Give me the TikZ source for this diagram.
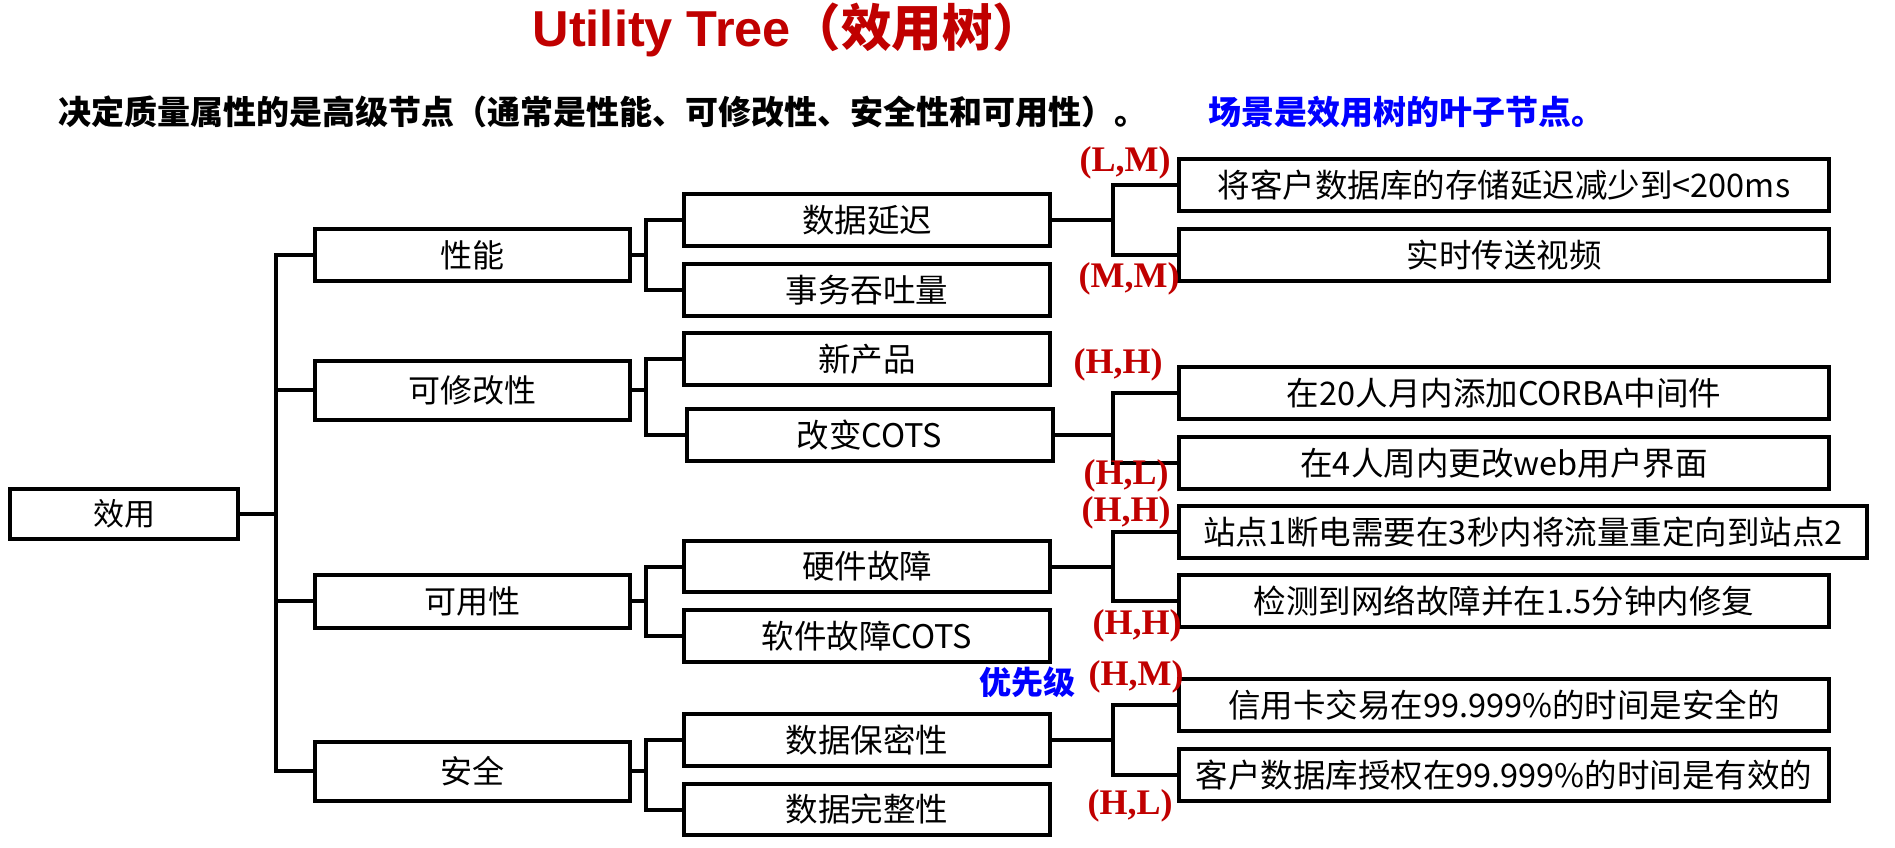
\documentclass[tikz,border=0pt]{standalone}
\usepackage{fontspec}
\setmainfont{Liberation Serif}
\newfontfamily\cjk{Noto Sans CJK SC}
\newfontfamily\lsans{Liberation Sans}
\definecolor{tred}{HTML}{C00000}
\definecolor{tblue}{HTML}{0000FF}
\tikzset{
  box/.style={draw=black, line width=4pt, fill=white, inner sep=0pt, minimum height=#1-4pt,
     font=\cjk\fontsize{32.5}{36}\selectfont},
  lv1/.style={box=#1, minimum width=315pt, font=\cjk\fontsize{32}{36}\selectfont},
  lv2/.style={box=#1, minimum width=366pt},
  leaf/.style={box=#1, minimum width=650pt},
  conn/.style={draw=black, line width=4pt, line cap=rect},
  prio/.style={text=tred, font=\bfseries\fontsize{36}{38}\selectfont, inner sep=0pt},
}
\begin{document}
\begin{tikzpicture}[x=1pt, y=-1pt]
\useasboundingbox (0,0) rectangle (1895,848);
% titles
\node[text=tred, inner sep=0pt] (title) at (788,30) {\fontsize{50.5}{56}\selectfont{\lsans\bfseries Utility Tree}{\cjk\bfseries （效用树）}};
\node[anchor=west, inner sep=0pt, font=\cjk\bfseries\fontsize{33}{38}\selectfont] (sub) at (58,112) {决定质量属性的是高级节点（通常是性能、可修改性、安全性和可用性）。};
\node[anchor=west, inner sep=0pt, text=tblue, font=\cjk\bfseries\fontsize{33}{38}\selectfont] (leafnote) at (1208,112) {场景是效用树的叶子节点。};
% root
\node[box=54pt, minimum width=228pt, font=\cjk\fontsize{31}{36}\selectfont] (root) at (124,514) {效用};
% level 1
\node[lv1=56pt] (perf) at (472.5,255) {性能};
\node[lv1=63pt] (mod) at (472.5,390) {可修改性};
\node[lv1=57pt] (avail) at (472.5,601) {可用性};
\node[lv1=63pt] (sec) at (472.5,771) {安全};
% level 2
\node[lv2=56pt] (lat) at (867,220) {数据延迟};
\node[lv2=56pt] (thr) at (867,290) {事务吞吐量};
\node[lv2=56pt] (newp) at (867,359) {新产品};
\node[lv2=56pt] (cots) at (869.5,435) {改变COTS};
\node[lv2=55pt] (hw) at (867,566.5) {硬件故障};
\node[lv2=56pt] (sw) at (867,636) {软件故障COTS};
\node[lv2=56pt] (conf) at (867,740) {数据保密性};
\node[lv2=55pt] (integ) at (867,809.5) {数据完整性};
% leaves
\node[leaf=56pt] (l1) at (1504,185) {将客户数据库的存储延迟减少到<200ms};
\node[leaf=56pt] (l2) at (1504,255) {实时传送视频};
\node[leaf=56pt] (l3) at (1504,393) {在20人月内添加CORBA中间件};
\node[leaf=56pt] (l4) at (1504,463) {在4人周内更改web用户界面};
\node[leaf=56pt, minimum width=688pt] (l5) at (1523,532) {站点1断电需要在3秒内将流量重定向到站点2};
\node[leaf=56pt] (l6) at (1504,601) {检测到网络故障并在1.5分钟内修复};
\node[leaf=56pt] (l7) at (1504,705) {信用卡交易在99.999\%的时间是安全的};
\node[leaf=56pt] (l8) at (1504,775) {客户数据库授权在99.999\%的时间是有效的};
% fork coordinates
\coordinate (f0) at (276,0);
\coordinate (f1) at (646,0);
\coordinate (f2) at (1113,0);
% connectors level 0 -> 1
\draw[conn] (root.east) -- (root.east -| f0);
\draw[conn] (perf.west) -- (perf.west -| f0) -- (sec.west -| f0) -- (sec.west);
\draw[conn] (mod.west) -- (mod.west -| f0);
\draw[conn] (avail.west) -- (avail.west -| f0);
% level 1 -> 2
\draw[conn] (perf.east) -- (perf.east -| f1);
\draw[conn] (lat.west) -- (lat.west -| f1) -- (thr.west -| f1) -- (thr.west);
\draw[conn] (mod.east) -- (mod.east -| f1);
\draw[conn] (newp.west) -- (newp.west -| f1) -- (cots.west -| f1) -- (cots.west);
\draw[conn] (avail.east) -- (avail.east -| f1);
\draw[conn] (hw.west) -- (hw.west -| f1) -- (sw.west -| f1) -- (sw.west);
\draw[conn] (sec.east) -- (sec.east -| f1);
\draw[conn] (conf.west) -- (conf.west -| f1) -- (integ.west -| f1) -- (integ.west);
% level 2 -> leaves
\draw[conn] (lat.east) -- (lat.east -| f2);
\draw[conn] (l1.west) -- (l1.west -| f2) -- (l2.west -| f2) -- (l2.west);
\draw[conn] (cots.east) -- (cots.east -| f2);
\draw[conn] (l3.west) -- (l3.west -| f2) -- (l4.west -| f2) -- (l4.west);
\draw[conn] (hw.east) -- (hw.east -| f2);
\draw[conn] (l5.west) -- (l5.west -| f2) -- (l6.west -| f2) -- (l6.west);
\draw[conn] (conf.east) -- (conf.east -| f2);
\draw[conn] (l7.west) -- (l7.west -| f2) -- (l8.west -| f2) -- (l8.west);
% priority labels
\node[prio] (p1) at (1125,163) {(L,M)};
\node[prio] (p2) at (1129,279) {(M,M)};
\node[prio] (p3) at (1118,365) {(H,H)};
\node[prio] (p4) at (1126,476) {(H,L)};
\node[prio] (p5) at (1126,513) {(H,H)};
\node[prio] (p6) at (1137,626) {(H,H)};
\node[prio] (p7) at (1136,677) {(H,M)};
\node[prio] (p8) at (1130,806) {(H,L)};
\node[text=tblue, inner sep=0pt, font=\cjk\bfseries\fontsize{32}{36}\selectfont] (prionote) at (1027,682) {优先级};
\end{tikzpicture}
\end{document}
